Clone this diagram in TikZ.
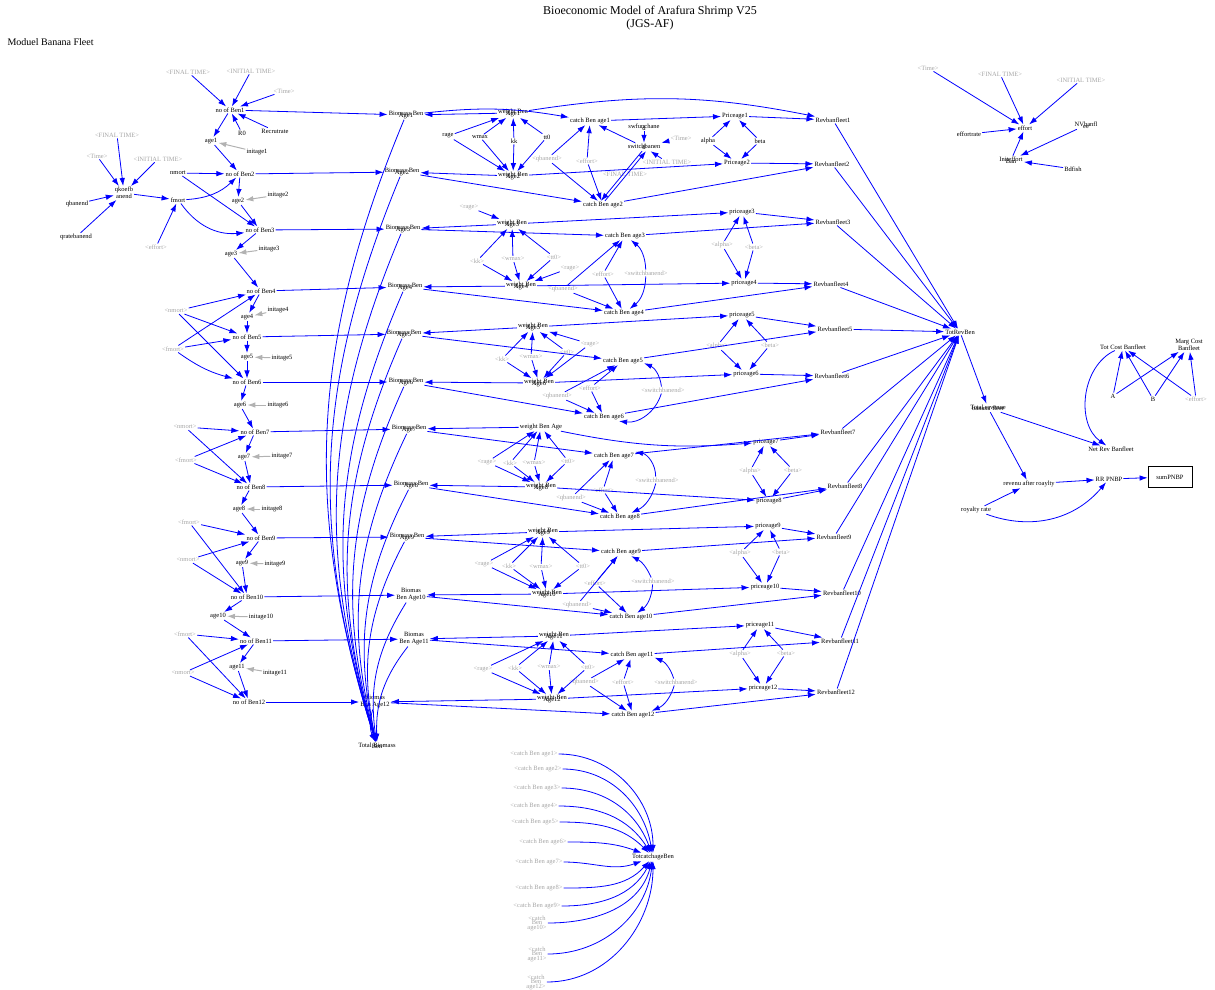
\documentclass[tikz,border=0pt]{standalone}
\usepackage{fontspec}
\setmainfont{Liberation Serif}
\usetikzlibrary{arrows.meta}

\newcommand{\ovl}[2]{\ooalign{\hfil#1\hfil\cr\hfil\raisebox{-1.5pt}{#2}\hfil\cr}}
\newcommand{\sh}[1]{\textless#1\textgreater}

\begin{document}
\begin{tikzpicture}[
		x=1pt, y=-1pt,
		var/.style={font=\fontsize{6.5}{7}\selectfont, inner sep=1pt},
		shadow/.style={var, text=black!35},
		stack/.style={var, align=center, font=\fontsize{6.5}{7}\selectfont},
		lnk/.style={draw=blue, line width=0.8pt, -{Latex[length=8pt, width=5.5pt]}},
		ini/.style={draw=black!30, line width=1pt, -{Latex[length=8pt, width=5.5pt]}}
	]

	\useasboundingbox (0,0) rectangle (1215,989);

	\node[align=center, font=\fontsize{12}{13}\selectfont] (title) at (650,18) {Bioeconomic Model of Arafura Shrimp V25\\(JGS-AF)};
	\node[anchor=west, font=\fontsize{10}{11}\selectfont] (module) at (4,42) {Moduel Banana Fleet};

	\foreach \i/\x/\y in {1/230/110, 2/240/174, 3/260/230, 4/261/291, 5/247/337, 6/247/382,
			7/255/432, 8/251/487, 9/261/538, 10/247/597, 11/256/641, 12/249/702} {
			\node[var] (nb\i) at (\x,\y) {no of Ben\i};
		}
	\foreach \i/\x/\y in {1/211/141, 2/238/201, 3/231/254, 4/247/317, 5/247/357, 6/240/405,
			7/244/457, 8/239/509, 9/242/563, 10/218/616, 11/237/667} {
			\node[var] (a\i) at (\x,\y) {age\i};
		}
	\foreach \i/\x/\y in {1/257/152, 2/278/195, 3/269/249, 4/278/310, 5/282/358, 6/278/405,
			7/282/456, 8/272/509, 9/275/564, 10/261/617, 11/275/673} {
			\node[var] (ia\i) at (\x,\y) {initage\i};
		}

	\node[shadow] (ft1) at (188,72) {\sh{FINAL TIME}};
	\node[shadow] (it1) at (251,71) {\sh{INITIAL TIME}};
	\node[shadow] (tm1) at (284,91) {\sh{Time}};
	\node[var] (r0) at (242,133) {R0};
	\node[var] (recr) at (275,131) {Recrutrate};

	\node[shadow] (ft2) at (117,135) {\sh{FINAL TIME}};
	\node[shadow] (tm2) at (97,156) {\sh{Time}};
	\node[shadow] (it2) at (158,159) {\sh{INITIAL TIME}};
	\node[var, align=center, font=\fontsize{6.5}{4}\selectfont] (qk) at (124,193) {qkoefb\\anend};
	\node[var] (qbl) at (77,204) {qbanend};
	\node[var] (qr) at (76,237) {qratebanend};
	\node[var] (nm) at (178,173) {nmort};
	\node[var] (fm) at (178,200) {fmort};
	\node[shadow] (efl) at (156,247) {\sh{effort}};

	\node[shadow] (nm4) at (176,311) {\sh{nmort}};
	\node[shadow] (fm4) at (173,349) {\sh{fmort}};
	\node[shadow] (nm7) at (185,427) {\sh{nmort}};
	\node[shadow] (fm7) at (186,460) {\sh{fmort}};
	\node[shadow] (fm9) at (189,522) {\sh{fmort}};
	\node[shadow] (nm9) at (188,560) {\sh{nmort}};
	\node[shadow] (fm11) at (185,634) {\sh{fmort}};
	\node[shadow] (nm11) at (183,673) {\sh{nmort}};

	\foreach \s in {ft1, it1, tm1, r0, recr} {
			\draw[lnk] (\s) -- (nb1);
		}
	\foreach \s in {ft2, tm2, it2, qbl, qr} {
			\draw[lnk] (\s) -- (qk);
		}
	\draw[lnk] (qk) -- (fm);
	\draw[lnk] (efl) -- (fm);
	\draw[lnk] (nm) -- (nb2);
	\draw[lnk] (nm) -- (nb3);
	\draw[lnk] (fm) to[bend right=20] (nb2);
	\draw[lnk] (fm) to[bend right=30] (nb3);
	\foreach \s/\t in {nm4/nb4, nm4/nb5, nm4/nb6, fm4/nb4, fm4/nb5, nm7/nb7, nm7/nb8, fm7/nb7, fm7/nb8,
			fm9/nb9, fm9/nb10, nm9/nb9, nm9/nb10, fm11/nb11, fm11/nb12, nm11/nb11, nm11/nb12} {
			\draw[lnk] (\s) -- (\t);
		}
	\draw[lnk] (fm4) to[bend right=10] (nb6);

	\foreach \i in {1, ..., 11} {
			\pgfmathtruncatemacro{\j}{\i+1}
			\draw[lnk] (nb\i) -- (a\i);
			\draw[ini] (ia\i) -- (a\i);
			\draw[lnk] (a\i) -- (nb\j);
		}

	\foreach \i/\x/\y in {1/406/115, 2/402/172, 3/403/229, 4/405/287, 5/404/334, 6/406/382,
			7/409/429, 8/411/485, 9/407/537} {
			\node[var] (bio\i) at (\x,\y) {\ovl{Biomass Ben}{Age\i}};
		}
	\node[stack] (bio10) at (411,595) {Biomas\\Ben Age10};
	\node[stack] (bio11) at (414,639) {Biomas\\Ben Age11};
	\node[stack] (bio12) at (375,702) {Biomas\\Ben Age12};
	\node[var] (totbio) at (377,746) {\ovl{Total Biomass}{Ben}};

	\foreach \i in {1, ..., 12} {
			\draw[lnk] (nb\i) -- (bio\i);
			\draw[lnk] (bio\i) to[bend right=20] (totbio);
		}

	\foreach \i/\x/\y in {1/513/113, 2/513/176, 3/512/224, 4/521/286, 5/533/327, 6/539/383,
			8/541/487, 9/543/532, 10/547/594, 11/554/636, 12/552/699} {
			\node[var] (w\i) at (\x,\y) {\ovl{weight Ben}{Age\i}};
		}
	\node[var] (w7) at (541,427) {weight Ben Age};

	\foreach \i/\x/\y in {1/590/121, 2/603/205, 3/625/236, 4/624/313, 5/623/361, 6/604/417,
			7/614/456, 8/620/517, 9/621/552, 10/631/617, 11/632/655, 12/633/715} {
			\node[var] (c\i) at (\x,\y) {catch Ben age\i};
		}

	\node[var] (p1) at (735,116) {Priceage1};
	\node[var] (p2) at (737,163) {Priceage2};
	\foreach \i/\x/\y in {3/742/212, 4/744/283, 5/742/315, 6/746/374, 7/766/442, 8/769/501,
			9/768/526, 10/765/587, 11/760/625, 12/763/688} {
			\node[var] (p\i) at (\x,\y) {priceage\i};
		}

	\foreach \i/\x/\y in {1/833/120, 2/832/164, 3/833/222, 4/831/284, 5/835/329, 6/832/376,
			7/838/432, 8/845/486, 9/834/537, 10/842/593, 11/840/641, 12/836/692} {
			\node[var] (r\i) at (\x,\y) {Revbanfleet\i};
		}

	\node[var] (rg1) at (448,136) {rage};
	\node[var] (wm1) at (480,137) {wmax};
	\node[var] (kk1) at (514,141) {kk};
	\node[var] (t01) at (547,137) {tt0};
	\node[shadow] (rg2) at (469,207) {\sh{rage}};
	\node[shadow] (rh2) at (570,268) {\sh{rage}};
	\foreach \k/\x/\y in {3/590/344, 4/487/462, 5/484/564, 6/483/669} {
			\node[shadow] (rg\k) at (\x,\y) {\sh{rage}};
		}
	\foreach \k/\x/\y in {2/477/261, 3/502/359, 4/510/463, 5/509/566, 6/515/668} {
			\node[shadow] (kk\k) at (\x,\y) {\sh{kk}};
		}
	\foreach \k/\x/\y in {2/513/259, 3/531/357, 4/534/463, 5/541/567, 6/549/667} {
			\node[shadow] (wm\k) at (\x,\y) {\sh{wmax}};
		}
	\foreach \k/\x/\y in {2/554/257, 3/567/352, 4/568/461, 5/583/566, 6/588/667} {
			\node[shadow] (t0\k) at (\x,\y) {\sh{tt0}};
		}

	\node[var] (sf) at (644,127) {\ovl{swfunchane}{d}};
	\node[var] (sw) at (644,147) {\ovl{switchbanen}{d}};
	\node[shadow] (tm3) at (681,138) {\sh{Time}};
	\node[shadow] (it3) at (667,162) {\sh{INITIAL TIME}};
	\node[shadow] (ft3) at (625,174) {\sh{FINAL TIME}};
	\foreach \k/\x/\y in {1/547/159, 2/563/289, 3/557/396, 4/571/498, 5/577/605, 6/584/682} {
			\node[shadow] (qc\k) at (\x,\y) {\sh{qbanend}};
		}
	\foreach \k/\x/\y in {1/587/161, 2/603/274, 3/590/388, 4/603/490, 5/595/583, 6/623/682} {
			\node[shadow] (ec\k) at (\x,\y) {\sh{effort}};
		}
	\foreach \k/\x/\y in {2/646/273, 3/663/390, 4/657/480, 5/653/581, 6/676/682} {
			\node[shadow] (sb\k) at (\x,\y) {\sh{switchbanend}};
		}

	\node[var] (al1) at (708,141) {alpha};
	\node[var] (be1) at (760,141) {beta};
	\foreach \k/\x/\y in {2/722/245, 3/717/346, 4/750/471, 5/740/553, 6/740/654} {
			\node[shadow] (al\k) at (\x,\y) {\sh{alpha}};
		}
	\foreach \k/\x/\y in {2/754/247, 3/770/345, 4/793/470, 5/781/552, 6/786/653} {
			\node[shadow] (be\k) at (\x,\y) {\sh{beta}};
		}

	\foreach \k in {1, ..., 6} {
			\pgfmathtruncatemacro{\wt}{2*\k-1}
			\pgfmathtruncatemacro{\wb}{2*\k}
			\foreach \v in {kk, wm, t0} {
					\draw[lnk] (\v\k) -- (w\wt);
					\draw[lnk] (\v\k) -- (w\wb);
				}
			\draw[lnk] (qc\k) -- (c\wt);
			\draw[lnk] (qc\k) -- (c\wb);
			\draw[lnk] (ec\k) -- (c\wt);
			\draw[lnk] (ec\k) -- (c\wb);
			\draw[lnk] (al\k) -- (p\wt);
			\draw[lnk] (al\k) -- (p\wb);
			\draw[lnk] (be\k) -- (p\wt);
			\draw[lnk] (be\k) -- (p\wb);
		}
	\foreach \k in {1, 3, 4, 5, 6} {
			\pgfmathtruncatemacro{\wt}{2*\k-1}
			\pgfmathtruncatemacro{\wb}{2*\k}
			\draw[lnk] (rg\k) -- (w\wt);
			\draw[lnk] (rg\k) -- (w\wb);
		}
	\draw[lnk] (rg2) -- (w3);
	\draw[lnk] (rh2) -- (w4);

	\foreach \s in {sf, tm3, it3} {
			\draw[lnk] (\s) -- (sw);
		}
	\draw[lnk] (sw) -- (c1);
	\draw[lnk] ([xshift=-2pt]sw.south) -- ([xshift=-2pt]c2.north);
	\draw[lnk] ([xshift=2pt]c2.north) -- ([xshift=2pt]sw.south);
	\foreach \k/\bu/\bd in {2/25/25, 3/30/40, 4/40/25, 5/20/25, 6/25/25} {
			\pgfmathtruncatemacro{\wt}{2*\k-1}
			\pgfmathtruncatemacro{\wb}{2*\k}
			\draw[lnk] (sb\k) to[bend right=\bu] (c\wt);
			\draw[lnk] (sb\k) to[bend left=\bd] (c\wb);
		}

	\node[var] (tr) at (960,332) {TotRevBen};

	\foreach \i in {1, ..., 12} {
			\draw[lnk] (w\i) -- (bio\i);
			\draw[lnk] (p\i) -- (r\i);
			\draw[lnk] (r\i) -- (tr);
		}
	\foreach \i in {2, ..., 12} {
			\draw[lnk] (bio\i) -- (c\i);
			\draw[lnk] (c\i) -- (r\i);
		}
	\foreach \i in {2, 3, 4, 5, 6, 8, 9, 10, 11, 12} {
			\draw[lnk] (w\i) -- (p\i);
		}
	\draw[lnk] (w7) to[bend right=8] (p7);
	\draw[lnk] (bio1) to[bend left=8] (c1);
	\draw[lnk] (w1) to[bend left=10] (r1);
	\draw[lnk] (c1) -- (p1);

	\node[var] (tot) at (988,408) {\ovl{Total revenue}{banana fleet}};
	\node[var] (nr) at (1111,449) {Net Rev Banfleet};
	\node[var] (ra) at (1029,484) {revenu after roaylty};
	\node[var] (rr) at (1109,479) {RR PNBP};
	\node[var, draw, line width=0.8pt, minimum width=44pt, minimum height=21pt] (sum) at (1170,477) {sumPNBP};
	\node[var] (rt) at (976,510) {royalty rate};
	\node[var] (tc) at (1123,347) {Tot Cost Banfleet};
	\node[stack] (mc) at (1189,345) {Marg Cost\\Banfleet};
	\node[var] (ca) at (1113,396) {A};
	\node[var] (cb) at (1153,399) {B};
	\node[shadow] (ecr) at (1196,399) {\sh{effort}};

	\draw[lnk] (tr) -- (tot);
	\draw[lnk] (tot) -- (nr);
	\draw[lnk] (tot) -- (ra);
	\draw[lnk] (tc) to[bend right=60] (nr);
	\draw[lnk] (ra) -- (rr);
	\draw[lnk] (rr) -- (sum);
	\draw[lnk] (rt) -- (ra);
	\draw[lnk] (rt) to[bend right=35] (rr);
	\foreach \s in {ca, cb, ecr} {
			\draw[lnk] (\s) -- (tc);
			\draw[lnk] (\s) -- (mc);
		}

	\node[shadow] (tm4) at (928,68) {\sh{Time}};
	\node[shadow] (ft4) at (1000,74) {\sh{FINAL TIME}};
	\node[shadow] (it4) at (1081,80) {\sh{INITIAL TIME}};
	\node[var] (eff) at (1025,128) {effort};
	\node[var] (efr) at (969,134) {effortrate};
	\node[var] (nv) at (1086,125) {\ovl{NVbanfl}{ee}};
	\node[var] (ie) at (1011,160) {\ovl{Initeffort}{Ban}};
	\node[var] (bd) at (1073,169) {Bdfish};
	\foreach \s in {tm4, ft4, it4, efr, ie} {
			\draw[lnk] (\s) -- (eff);
		}
	\draw[lnk] (nv) -- (ie);
	\draw[lnk] (bd) -- (ie);

	\foreach \i/\x/\y in {1/534/754, 2/538/769, 3/537/788, 4/534/806, 5/535/822, 6/543/842,
			7/539/862, 8/539/888, 9/537/906} {
			\node[shadow] (sc\i) at (\x,\y) {\sh{catch Ben age\i}};
		}
	\foreach \i/\x/\y in {10/537/923, 11/537/954, 12/536/982} {
			\node[shadow, align=center, font=\fontsize{6.5}{4.5}\selectfont] (sc\i) at (\x,\y) {\textless catch\\Ben\\age\i\textgreater};
		}
	\node[var] (tca) at (653,857) {TotcatchageBen};
	\foreach \i/\a in {1/90, 2/100, 3/110, 4/122, 5/135, 6/160, 7/200, 8/228, 9/242, 10/255, 11/263, 12/270} {
			\draw[lnk] (sc\i) to[out=0, in=\a] (tca);
		}

\end{tikzpicture}
\end{document}
